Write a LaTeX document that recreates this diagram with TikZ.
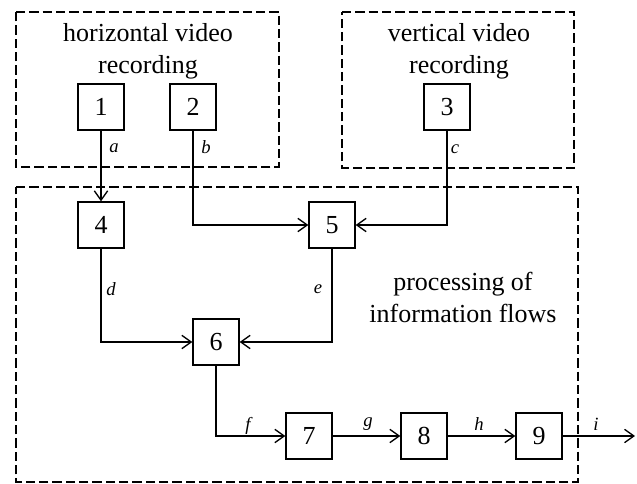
\documentclass[tikz,border=0pt]{standalone}
\usepackage{fontspec}
\setmainfont{Liberation Serif}
\usetikzlibrary{arrows.meta}

\tikzset{every picture/.style={line width=1pt}}
\tikzset{
  blk/.style={draw, minimum size=34.5pt, inner sep=0pt, font=\fontsize{19.5}{24}\selectfont},
  grp/.style={dash pattern={on 7pt off 3pt}},
  ttl/.style={align=center, font=\fontsize{19.5}{24}\selectfont},
  lbl/.style={font=\fontsize{14}{16}\selectfont\itshape},
  flow/.style={-{Straight Barb[length=7pt,width=10pt]}}
}

\begin{document}
\begin{tikzpicture}[x=0.75pt,y=0.75pt,yscale=-1,xscale=1]
\path[use as bounding box] (0,0) rectangle (637,484);

%Shape: Rectangle [horizontal group]
\draw [grp] (16,12) -- (279,12) -- (279,167) -- (16,167) -- cycle ;
%Shape: Rectangle [vertical group]
\draw [grp] (342,12) -- (574,12) -- (574,168) -- (342,168) -- cycle ;
%Shape: Rectangle [processing group]
\draw [grp] (16,187) -- (578,187) -- (578,482) -- (16,482) -- cycle ;

% Text Node
\draw (148,51) node [ttl] (hortxt) {horizontal video\\recording};
% Text Node
\draw (459,51) node [ttl] (vertxt) {vertical video\\recording};
% Text Node
\draw (463,297) node [ttl] (proctxt) {processing of\\information flows};

% Blocks
\draw (101,107) node [blk] (b1) {1};
\draw (193,107) node [blk] (b2) {2};
\draw (447,107) node [blk] (b3) {3};
\draw (101,225) node [blk] (b4) {4};
\draw (332,225) node [blk] (b5) {5};
\draw (216,342) node [blk] (b6) {6};
\draw (309,436) node [blk] (b7) {7};
\draw (424,436) node [blk] (b8) {8};
\draw (539,436) node [blk] (b9) {9};
\coordinate (out) at (635,436);

% Connectors
\draw [flow] (b1) -- (b4);
\draw [flow] (b2.south) |- (b5.west);
\draw [flow] (b3.south) |- (b5.east);
\draw [flow] (b4.south) |- (b6.west);
\draw [flow] (b5.south) |- (b6.east);
\draw [flow] (b6.south) |- (b7.west);
\draw [flow] (b7) -- (b8);
\draw [flow] (b8) -- (b9);
\draw [flow] (b9) -- (out);

% Labels
\draw (114,148) node [lbl] (la) {a};
\draw (206,147) node [lbl] (lb) {b};
\draw (455,149) node [lbl] (lc) {c};
\draw (111,289) node [lbl] (ld) {d};
\draw (318,289) node [lbl] (le) {e};
\draw (248,426) node [lbl] (lf) {f};
\draw (368,424) node [lbl] (lg) {g};
\draw (479,424) node [lbl] (lh) {h};
\draw (596,424) node [lbl] (li) {i};

\end{tikzpicture}
\end{document}
